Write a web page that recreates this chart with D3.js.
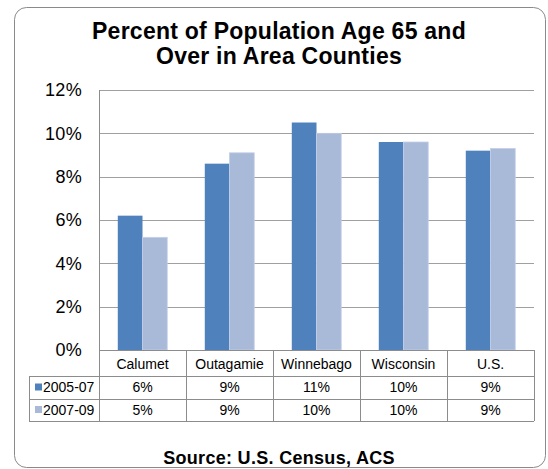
<!DOCTYPE html>
<html>
<head>
<meta charset="utf-8">
<script src="https://cdn.jsdelivr.net/npm/d3@7"></script>
<style>
  body { margin: 0; background: #fff; }
  svg { display: block; font-family: "Liberation Sans", Arial, sans-serif; }
</style>
</head>
<body>
<div id="chart"></div>
<script>
var categories = ["Calumet", "Outagamie", "Winnebago", "Wisconsin", "U.S."];
var seriesNames = ["2005-07", "2007-09"];
var values0507 = [6.2, 8.6, 10.5, 9.6, 9.2];
var values0709 = [5.2, 9.1, 10.0, 9.6, 9.3];
var yTicks = [0, 2, 4, 6, 8, 10, 12];
var colors = ["#4F81BD", "#A9BAD9"];

var series = [values0507, values0709];

var width = 548, height = 469;
var plot = { left: 99, right: 534, top: 90, bottom: 350 };
var rowH = [26, 23, 22];
var legendLeft = 29;
var lineColor = "#8c8c8c";

var svg = d3.select("#chart")
  .append("svg")
  .attr("width", width)
  .attr("height", height);

// outer frame
svg.append("rect")
  .attr("x", 14.5)
  .attr("y", 7.5)
  .attr("width", 531)
  .attr("height", 460)
  .attr("rx", 12)
  .attr("fill", "#fff")
  .attr("stroke", "#8a8a8a");

// title
var title = svg.append("text")
  .attr("text-anchor", "middle")
  .attr("font-weight", "bold")
  .attr("font-size", "23px")
  .attr("letter-spacing", "0.25px")
  .attr("fill", "#000");
title.append("tspan").attr("x", 279).attr("y", 39).text("Percent of Population Age 65 and");
title.append("tspan").attr("x", 279).attr("y", 64).text("Over in Area Counties");

var x0 = d3.scaleBand()
  .domain(categories)
  .range([plot.left, plot.right])
  .padding(0);

var x1 = d3.scaleBand()
  .domain(seriesNames)
  .range([0, x0.bandwidth()])
  .paddingInner(0)
  .paddingOuter(0.76);

var y = d3.scaleLinear()
  .domain([0, 12])
  .range([plot.bottom, plot.top]);

// gridlines
svg.append("g")
  .selectAll("line")
  .data(yTicks)
  .enter()
  .append("line")
  .attr("x1", plot.left)
  .attr("x2", plot.right)
  .attr("y1", function(d) { return Math.round(y(d)) + 0.5; })
  .attr("y2", function(d) { return Math.round(y(d)) + 0.5; })
  .attr("stroke", "#a0a0a0");

// y tick labels
svg.append("g")
  .selectAll("text")
  .data(yTicks)
  .enter()
  .append("text")
  .attr("x", 82)
  .attr("y", function(d) { return y(d); })
  .attr("dy", "0.35em")
  .attr("text-anchor", "end")
  .attr("font-size", "18px")
  .attr("letter-spacing", "0.3px")
  .attr("fill", "#000")
  .text(function(d) { return d + "%"; });

// bars
series.forEach(function(vals, s) {
  svg.append("g")
    .selectAll("rect")
    .data(vals)
    .enter()
    .append("rect")
    .attr("x", function(d, i) { return x0(categories[i]) + x1(seriesNames[s]); })
    .attr("y", function(d) { return y(d); })
    .attr("width", x1.bandwidth())
    .attr("height", function(d) { return y(0) - y(d); })
    .attr("fill", colors[s])
    .attr("stroke", s === 1 ? "#c3cfe6" : "none")
    .attr("stroke-width", 0.8);
});

// data table
var tTop = plot.bottom;
var r1 = tTop + rowH[0], r2 = r1 + rowH[1], r3 = r2 + rowH[2];
var table = svg.append("g")
  .attr("stroke", lineColor)
  .attr("shape-rendering", "crispEdges");

table.append("line").attr("x1", plot.left).attr("x2", plot.right).attr("y1", tTop).attr("y2", tTop);
[r1, r2, r3].forEach(function(yy) {
  table.append("line").attr("x1", legendLeft).attr("x2", plot.right).attr("y1", yy).attr("y2", yy);
});
// vertical lines
table.append("line").attr("x1", plot.left).attr("x2", plot.left).attr("y1", plot.top).attr("y2", r3);
table.append("line").attr("x1", legendLeft).attr("x2", legendLeft).attr("y1", r1).attr("y2", r3);
table.selectAll(".vline")
  .data(categories)
  .enter()
  .append("line")
  .attr("class", "vline")
  .attr("x1", function(d) { return x0(d) + x0.bandwidth(); })
  .attr("x2", function(d) { return x0(d) + x0.bandwidth(); })
  .attr("y1", tTop)
  .attr("y2", r3);

// category names
svg.append("g")
  .selectAll("text")
  .data(categories)
  .enter()
  .append("text")
  .attr("x", function(d) { return x0(d) + x0.bandwidth() / 2; })
  .attr("y", tTop + rowH[0] / 2 + 1)
  .attr("dy", "0.35em")
  .attr("text-anchor", "middle")
  .attr("font-size", "14px")
  .text(function(d) { return d; });

// value rows
var rowMids = [r1 + rowH[1] / 2, r2 + rowH[2] / 2];
series.forEach(function(vals, s) {
  svg.append("g")
    .selectAll("text")
    .data(vals)
    .enter()
    .append("text")
    .attr("x", function(d, i) { return x0(categories[i]) + x0.bandwidth() / 2; })
    .attr("y", rowMids[s])
    .attr("dy", "0.35em")
    .attr("text-anchor", "middle")
    .attr("font-size", "14px")
    .text(function(d) { return Math.round(d) + "%"; });

  svg.append("rect")
    .attr("x", 35)
    .attr("y", rowMids[s] - 4)
    .attr("width", 7)
    .attr("height", 7)
    .attr("fill", colors[s]);

  svg.append("text")
    .attr("x", 43)
    .attr("y", rowMids[s])
    .attr("dy", "0.35em")
    .attr("font-size", "14px")
    .text(seriesNames[s]);
});

// source
svg.append("text")
  .attr("x", 279)
  .attr("y", 464)
  .attr("text-anchor", "middle")
  .attr("font-weight", "bold")
  .attr("font-size", "18px")
  .attr("letter-spacing", "0.3px")
  .text("Source:  U.S. Census, ACS");
</script>
</body>
</html>
